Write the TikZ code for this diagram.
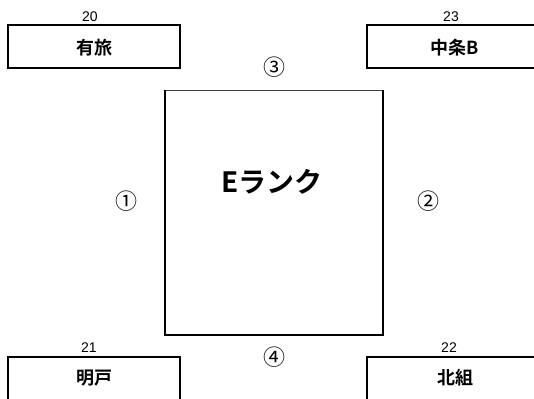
\documentclass[tikz,border=0pt]{standalone}
\usepackage{fontspec}
\setmainfont{Liberation Sans}
\newfontfamily\jp{Noto Sans CJK JP}[BoldFont={* Bold}]
\begin{document}
\begin{tikzpicture}[x=1pt,y=-1pt,
  tagbox/.style={draw,line width=1.6pt},
  numlbl/.style={font=\fontsize{14}{14}\selectfont,inner sep=0pt},
  jpname/.style={font=\jp\bfseries\fontsize{18}{18}\selectfont,inner sep=0pt},
  circ/.style={font=\jp\fontsize{22}{22}\selectfont,inner sep=0pt}]
\useasboundingbox (0,0) rectangle (534,398);
\fill[white] (0,0) rectangle (534,398);
% boxes
\draw[tagbox] (8,25) rectangle (180,68);
\draw[tagbox] (540,25) -- (367,25) -- (367,68) -- (540,68);
\draw[tagbox] (8,400) -- (8,357) -- (180,357) -- (180,400);
\draw[tagbox] (540,357) -- (367,357) -- (367,400);
\node[numlbl] (n20) at (90,17) {20};
\node[numlbl] (n23) at (451,17) {23};
\node[numlbl] (n21) at (89,348) {21};
\node[numlbl] (n22) at (449,348) {22};
\node[jpname] (a) at (94,48) {有旅};
\node[jpname] (b) at (455,48) {中条B};
\node[jpname] (c) at (94,378) {明戸};
\node[jpname] (d) at (455,378) {北組};
% center rect
\draw[line width=0.8pt,black!75] (165,90) -- (383,90);
\draw[line width=1.3pt] (165,90) -- (165,335);
\draw[line width=2pt] (383,90) -- (383,335);
\draw[line width=2pt] (164.3,335) -- (384,335);
\node[font=\jp\bfseries\fontsize{28}{28}\selectfont,inner sep=0pt] (e) at (272,182) {Eランク};
\node[circ] (c1) at (126,201) {①};
\node[circ] (c2) at (428,201) {②};
\node[circ] (c3) at (274,67) {③};
\node[circ] (c4) at (274,357) {④};
\end{tikzpicture}
\end{document}
